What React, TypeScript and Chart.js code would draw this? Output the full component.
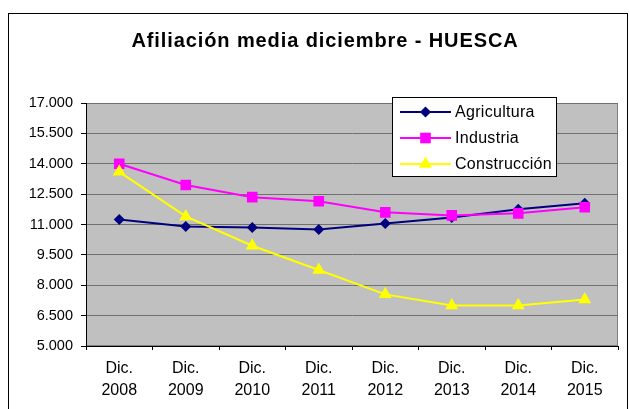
import React, { useEffect, useRef } from 'react';
import { Chart, registerables } from 'chart.js';

Chart.register(...registerables);

const title = 'Afiliación media diciembre - HUESCA';
const years = ['2008', '2009', '2010', '2011', '2012', '2013', '2014', '2015'];
const categories = years.map((y) => ['Dic.', y]);
const agricultura = [11250, 10900, 10850, 10750, 11050, 11350, 11750, 12050];
const industria = [14000, 12950, 12350, 12150, 11600, 11450, 11550, 11850];
const construccion = [13600, 11400, 9950, 8750, 7550, 7000, 7000, 7300];
const seriesNames = ['Agricultura', 'Industria', 'Construcción'];
const seriesColors = ['#000080', '#FF00FF', '#FFFF00'];
const seriesStyles = ['rectRot', 'rect', 'triangle'];
const seriesRadius = [5.5, 7.5, 7.5];
const yMin = 5000;
const yMax = 17000;
const yStep = 1500;

const FONT = "'Liberation Sans', Arial, sans-serif";

function fmt(v: number): string {
  const s = Math.round(v).toString();
  return s.replace(/\B(?=(\d{3})+(?!\d))/g, '.');
}

function drawMarker(ctx: CanvasRenderingContext2D, style: string, x: number, y: number, r: number, color: string) {
  ctx.save();
  ctx.fillStyle = color;
  ctx.strokeStyle = color;
  ctx.beginPath();
  if (style === 'rectRot') {
    ctx.moveTo(x - r, y);
    ctx.lineTo(x, y - r);
    ctx.lineTo(x + r, y);
    ctx.lineTo(x, y + r);
  } else if (style === 'rect') {
    const s = r * Math.SQRT1_2;
    ctx.rect(x - s, y - s, 2 * s, 2 * s);
  } else {
    ctx.moveTo(x, y - r);
    ctx.lineTo(x + r * Math.sin(Math.PI * 2 / 3), y - r * Math.cos(Math.PI * 2 / 3));
    ctx.lineTo(x - r * Math.sin(Math.PI * 2 / 3), y - r * Math.cos(Math.PI * 2 / 3));
  }
  ctx.closePath();
  ctx.fill();
  ctx.restore();
}

const framePlugin = {
  id: 'framePlugin',
  beforeDraw(chart: any) {
    const { ctx, chartArea } = chart;
    ctx.save();
    ctx.fillStyle = '#ffffff';
    ctx.fillRect(0, 0, chart.width, chart.height);
    // outer frame
    ctx.strokeStyle = '#000000';
    ctx.lineWidth = 1;
    ctx.strokeRect(8.5, 13.5, 619, 420);
    // plot background
    ctx.fillStyle = '#C0C0C0';
    ctx.fillRect(chartArea.left, chartArea.top, chartArea.right - chartArea.left, chartArea.bottom - chartArea.top);
    ctx.strokeStyle = '#808080';
    ctx.strokeRect(chartArea.left + 0.5, chartArea.top + 0.5, chartArea.right - chartArea.left - 1, chartArea.bottom - chartArea.top - 1);
    // title
    ctx.fillStyle = '#000000';
    ctx.font = `bold 20px ${FONT}`;
    ctx.textAlign = 'center';
    ctx.textBaseline = 'alphabetic';
    try { (ctx as any).letterSpacing = '0.9px'; } catch (e) {}
    ctx.fillText(title, 325, 47);
    ctx.restore();
  },
  afterDraw(chart: any) {
    const { ctx } = chart;
    ctx.save();
    const bx = 392.5, by = 97.5, bw = 164, bh = 79;
    ctx.fillStyle = '#ffffff';
    ctx.fillRect(bx, by, bw, bh);
    ctx.strokeStyle = '#000000';
    ctx.lineWidth = 1;
    ctx.strokeRect(bx, by, bw, bh);
    const rows = [112, 138, 164];
    ctx.font = `16px ${FONT}`;
    ctx.textAlign = 'left';
    ctx.textBaseline = 'middle';
    try { (ctx as any).letterSpacing = '0.3px'; } catch (e) {}
    for (let i = 0; i < seriesNames.length; i++) {
      const y = rows[i];
      ctx.strokeStyle = seriesColors[i];
      ctx.lineWidth = 2;
      ctx.beginPath();
      ctx.moveTo(400, y);
      ctx.lineTo(451, y);
      ctx.stroke();
      drawMarker(ctx, seriesStyles[i], 425.5, y, seriesRadius[i], seriesColors[i]);
      ctx.fillStyle = '#000000';
      ctx.fillText(seriesNames[i], 455, y + 1);
    }
    ctx.restore();
  },
};

export default function App() {
  const ref = useRef<HTMLCanvasElement | null>(null);
  useEffect(() => {
    if (!ref.current) return;
    const seriesData = [agricultura, industria, construccion];
    const chart = new Chart(ref.current, {
      type: 'line',
      data: {
        labels: categories,
        datasets: seriesNames.map((name, i) => ({
          label: name,
          data: seriesData[i],
          borderColor: seriesColors[i],
          backgroundColor: seriesColors[i],
          pointBackgroundColor: seriesColors[i],
          pointBorderColor: seriesColors[i],
          pointStyle: seriesStyles[i] as any,
          pointRadius: seriesRadius[i],
          pointBorderWidth: 0,
          borderWidth: 2,
          tension: 0,
          fill: false,
          order: 2 - i,
        })),
      },
      options: {
        responsive: false,
        animation: false,
        devicePixelRatio: 1,
        layout: { padding: { left: 0, right: 11, top: 103, bottom: 0 } },
        plugins: {
          legend: { display: false },
          title: { display: false },
          tooltip: { enabled: false },
        },
        scales: {
          x: {
            offset: true,
            grid: {
              offset: true,
              drawOnChartArea: false,
              drawTicks: true,
              tickLength: 4,
              tickColor: '#000000',
            },
            border: { color: '#000000', width: 1 },
            ticks: {
              color: '#000000',
              font: { family: FONT, size: 16, lineHeight: 1.4 },
              padding: 7,
              maxRotation: 0,
              autoSkip: false,
            },
            afterFit: (scale: any) => { scale.height = 63; },
          },
          y: {
            min: yMin,
            max: yMax,
            grid: {
              color: '#707070',
              tickLength: 5,
              tickColor: '#000000',
            },
            border: { color: '#000000', width: 1 },
            ticks: {
              stepSize: yStep,
              color: '#000000',
              font: { family: FONT, size: 14.5 },
              padding: 8,
              callback: (v: any) => fmt(Number(v)),
            },
            afterFit: (scale: any) => { scale.width = 86; },
          },
        },
      },
      plugins: [framePlugin],
    });
    return () => chart.destroy();
  }, []);
  return (
    <div style={{ position: 'absolute', left: 0, top: 0, width: 629, height: 409 }}>
      <canvas ref={ref} width={629} height={409} style={{ display: 'block', width: 629, height: 409 }} />
    </div>
  );
}
